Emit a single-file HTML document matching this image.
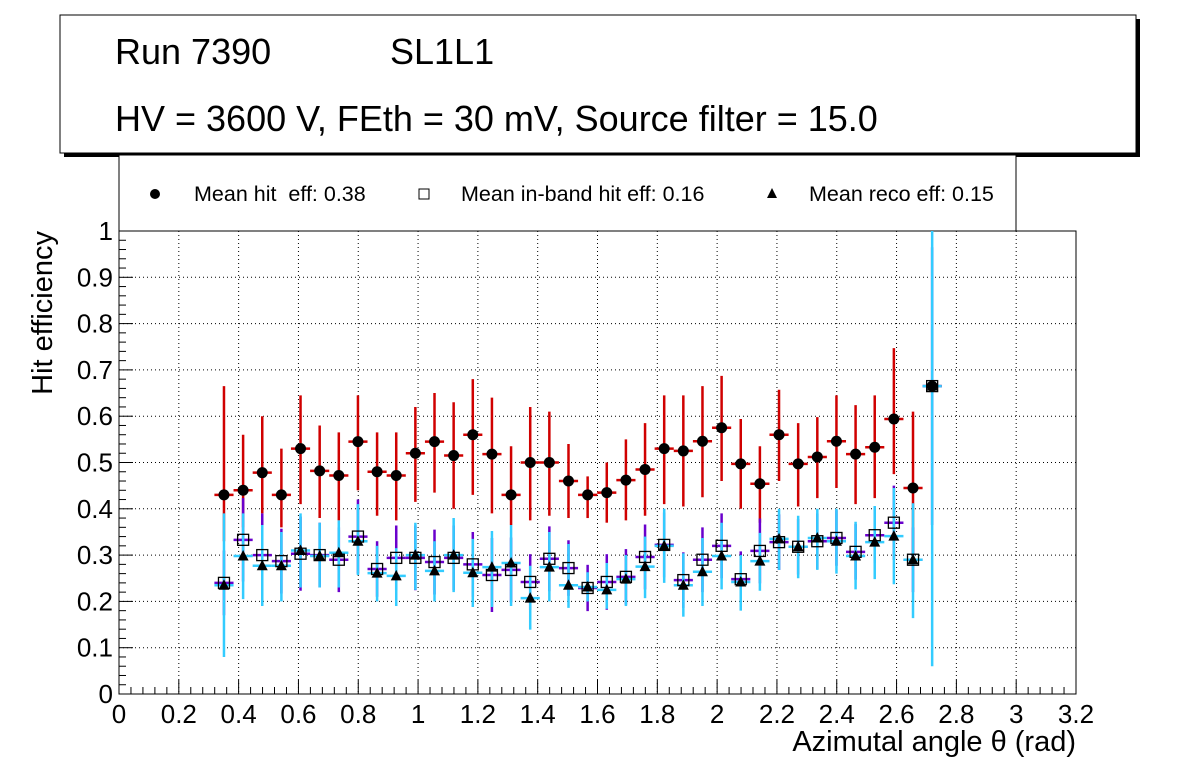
<!DOCTYPE html>
<html><head><meta charset="utf-8"><style>
html,body{margin:0;padding:0;background:#fff;}
svg{display:block;font-family:"Liberation Sans",sans-serif;}
</style></head><body>
<svg id="c" width="1196" height="772" xmlns="http://www.w3.org/2000/svg">
<rect x="64" y="19" width="1076" height="138" fill="#000"/>
<rect x="60" y="15" width="1076" height="138" fill="#fff" stroke="#000" stroke-width="1"/>
<text x="115" y="64" font-size="36">Run 7390</text>
<text x="390" y="64" font-size="36">SL1L1</text>
<text x="115" y="131" font-size="36">HV = 3600 V, FEth = 30 mV, Source filter = 15.0</text>
<rect x="119" y="155" width="897" height="76" fill="#fff" stroke="#000" stroke-width="1"/>
<g><circle cx="155" cy="194" r="5" fill="#000"/><text x="194" y="201" font-size="21.5">Mean hit&#160; eff: 0.38</text></g>
<g><rect x="419" y="189" width="10" height="10" fill="#fff" stroke="#000"/><text x="461" y="201" font-size="21.5">Mean in-band hit eff: 0.16</text></g>
<g><polygon points="772,188 777,198 767,198" fill="#000"/><text x="809" y="201" font-size="21.5">Mean reco eff: 0.15</text></g>
<g id="plot"></g>
<text x="52" y="231" font-size="29" text-anchor="end" transform="rotate(-90 52 231)">Hit efficiency</text>
<text x="1076" y="751" font-size="29" text-anchor="end">Azimutal angle θ (rad)</text>
</svg>
<script>
const xStart = 0.351, xStep = 0.064;
const hitEff = [0.43,0.44,0.478,0.43,0.53,0.482,0.472,0.545,0.48,0.472,0.52,0.545,0.515,0.56,0.518,0.43,0.50,0.50,0.46,0.43,0.435,0.462,0.485,0.53,0.525,0.546,0.575,0.497,0.454,0.56,0.497,0.512,0.546,0.518,0.533,0.594,0.445,0.665];
const hitHi = [0.665,0.56,0.60,0.53,0.645,0.58,0.565,0.645,0.565,0.565,0.62,0.65,0.63,0.68,0.64,0.535,0.62,0.61,0.54,0.47,0.50,0.55,0.585,0.645,0.645,0.665,0.687,0.594,0.535,0.657,0.585,0.598,0.645,0.624,0.645,0.747,0.61,0.665];
const hitLo = [0.33,0.36,0.39,0.36,0.41,0.38,0.375,0.44,0.385,0.375,0.415,0.435,0.40,0.43,0.39,0.365,0.375,0.385,0.38,0.38,0.37,0.375,0.385,0.41,0.405,0.425,0.46,0.40,0.37,0.46,0.405,0.423,0.445,0.41,0.423,0.475,0.30,0.665];
const inbandEff = [0.24,0.333,0.30,0.287,0.303,0.30,0.29,0.34,0.27,0.294,0.294,0.285,0.294,0.28,0.257,0.268,0.242,0.292,0.272,0.229,0.242,0.253,0.296,0.322,0.246,0.29,0.32,0.248,0.309,0.328,0.318,0.33,0.337,0.307,0.343,0.37,0.29,0.665];
const inbandErr = [0.07,0.09,0.09,0.07,0.08,0.07,0.07,0.08,0.06,0.07,0.07,0.07,0.07,0.07,0.08,0.07,0.06,0.07,0.06,0.05,0.06,0.06,0.07,0.07,0.06,0.07,0.07,0.06,0.07,0.06,0.06,0.06,0.06,0.06,0.06,0.08,0.07,0.3];
const recoEff = [0.235,0.298,0.277,0.277,0.31,0.298,0.305,0.33,0.261,0.255,0.30,0.266,0.30,0.262,0.274,0.283,0.207,0.274,0.235,0.231,0.225,0.248,0.275,0.32,0.235,0.264,0.298,0.242,0.287,0.335,0.318,0.337,0.33,0.298,0.328,0.341,0.29,0.665];
const recoHi = [0.39,0.39,0.365,0.35,0.39,0.37,0.375,0.41,0.32,0.315,0.37,0.33,0.38,0.335,0.352,0.365,0.277,0.35,0.324,0.263,0.283,0.30,0.34,0.40,0.304,0.337,0.37,0.30,0.348,0.40,0.385,0.40,0.40,0.372,0.406,0.445,0.412,1.0];
const recoLo = [0.08,0.205,0.19,0.20,0.23,0.23,0.23,0.257,0.20,0.19,0.225,0.20,0.22,0.188,0.188,0.19,0.139,0.20,0.186,0.20,0.184,0.19,0.207,0.24,0.167,0.19,0.226,0.18,0.223,0.268,0.25,0.268,0.26,0.226,0.248,0.237,0.164,0.06];
const xTicks = ["0","0.2","0.4","0.6","0.8","1","1.2","1.4","1.6","1.8","2","2.2","2.4","2.6","2.8","3","3.2"];
const yTicks = ["0","0.1","0.2","0.3","0.4","0.5","0.6","0.7","0.8","0.9","1"];

const X0=119,X1=1076,Y0=694,Y1=231;
const xs=v=>X0+(v/3.2)*(X1-X0);
const ys=v=>Y0-(v/1)*(Y0-Y1);
const NS="http://www.w3.org/2000/svg";
const g=document.getElementById('plot');
function mk(tag,attrs,name){const e=document.createElementNS(NS,tag);for(const k in attrs)e.setAttribute(k,attrs[k]);


g.appendChild(e);return e;}
mk('rect',{x:X0,y:Y1,width:X1-X0,height:Y0-Y1,fill:'#fff',stroke:'#000','stroke-width':1},'plot-frame');
xTicks.forEach((t,i)=>{const v=i*0.2,x=xs(v);
 if(i>0&&i<xTicks.length-1) mk('line',{x1:x,x2:x,y1:Y1,y2:Y0,stroke:'#000','stroke-dasharray':'1,3','stroke-width':1},'x-grid-line');
 mk('line',{x1:x,x2:x,y1:Y0,y2:Y0-14,stroke:'#000'},'x-major-tick');
 const l=mk('text',{x:x,y:Y0+29,'font-size':26,'text-anchor':'middle'},'x-tick-label');l.textContent=t;
 if(i<xTicks.length-1)for(let k=1;k<5;k++){const xm=xs(v+k*0.04);mk('line',{x1:xm,x2:xm,y1:Y0,y2:Y0-7,stroke:'#000'},'x-minor-tick');}
});
yTicks.forEach((t,i)=>{const v=i*0.1,y=ys(v);
 if(i>0&&i<yTicks.length-1) mk('line',{x1:X0,x2:X1,y1:y,y2:y,stroke:'#000','stroke-dasharray':'1,3','stroke-width':1},'y-grid-line');
 mk('line',{x1:X0,x2:X0+14,y1:y,y2:y,stroke:'#000'},'y-major-tick');
 const l=mk('text',{x:X0-6,y:y+9,'font-size':26,'text-anchor':'end'},'y-tick-label');l.textContent=t;
 if(i<yTicks.length-1)for(let k=1;k<5;k++){const ym=ys(v+k*0.02);mk('line',{x1:X0,x2:X0+7,y1:ym,y2:ym,stroke:'#000'},'y-minor-tick');}
});
const hw=(xStep/2)*(X1-X0)/3.2;
hitEff.forEach((v,i)=>{const x=xs(xStart+i*xStep);
 mk('line',{x1:x,x2:x,y1:ys(hitLo[i]),y2:ys(hitHi[i]),stroke:'#d00000','stroke-width':2.5},'hit-error-bar');
 mk('line',{x1:x-hw,x2:x+hw,y1:ys(v),y2:ys(v),stroke:'#d00000','stroke-width':2.5},'hit-bin-bar');
});
inbandEff.forEach((v,i)=>{const x=xs(xStart+i*xStep);
 mk('line',{x1:x,x2:x,y1:ys(v-inbandErr[i]),y2:ys(Math.min(1,v+inbandErr[i])),stroke:'#6a00cc','stroke-width':2.5},'inband-error-bar');
 mk('line',{x1:x-hw,x2:x+hw,y1:ys(v),y2:ys(v),stroke:'#6a00cc','stroke-width':2.5},'inband-bin-bar');
});
recoEff.forEach((v,i)=>{const x=xs(xStart+i*xStep);
 mk('line',{x1:x,x2:x,y1:ys(recoLo[i]),y2:ys(recoHi[i]),stroke:'#33ccff','stroke-width':2.5},'reco-error-bar');
 mk('line',{x1:x-hw,x2:x+hw,y1:ys(v),y2:ys(v),stroke:'#33ccff','stroke-width':2.5},'reco-bin-bar');
});
hitEff.forEach((v,i)=>{const x=xs(xStart+i*xStep);mk('circle',{cx:x,cy:ys(v),r:5.5,fill:'#000'},'hit-point');});
inbandEff.forEach((v,i)=>{const x=xs(xStart+i*xStep);mk('rect',{x:x-5.5,y:ys(v)-5.5,width:11,height:11,fill:'none',stroke:'#000','stroke-width':1.3},'inband-point');});
recoEff.forEach((v,i)=>{const x=xs(xStart+i*xStep),y=ys(v);mk('polygon',{points:`${x},${y-6} ${x+5.5},${y+4.5} ${x-5.5},${y+4.5}`,fill:'#000'},'reco-point');});
</script>
</body></html>
